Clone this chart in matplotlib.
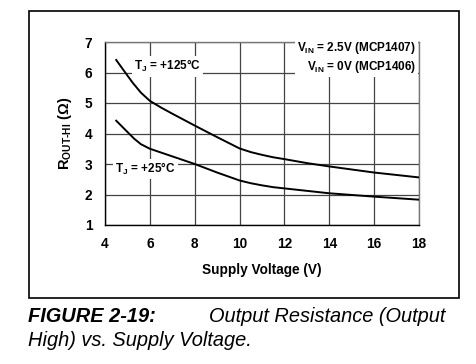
import matplotlib
matplotlib.use("Agg")
import matplotlib.pyplot as plt
from matplotlib.patches import Rectangle

plt.rcParams['font.family'] = ['Liberation Sans', 'DejaVu Sans']
plt.rcParams['mathtext.fontset'] = 'custom'
plt.rcParams['mathtext.bf'] = 'Liberation Sans:bold'
plt.rcParams['mathtext.rm'] = 'Liberation Sans:bold'

# values
vdd_hot = [4.5, 5.0, 5.25, 5.6, 6, 6.5, 7, 8, 9, 10, 10.5, 11, 11.5, 12, 13, 14, 15, 16, 17, 18]
r_hot = [6.41, 5.9, 5.65, 5.34, 5.07, 4.85, 4.65, 4.26, 3.88, 3.51, 3.39, 3.3, 3.22, 3.16,
         3.03, 2.92, 2.82, 2.72, 2.64, 2.56]
vdd_cold = [4.5, 5.0, 5.3, 5.6, 6, 7, 8, 9, 10, 10.5, 11, 11.5, 12, 14, 16, 18]
r_cold = [4.42, 4.05, 3.83, 3.65, 3.5, 3.25, 3.0, 2.72, 2.46, 2.37, 2.3, 2.24, 2.2,
          2.04, 1.93, 1.83]

W, H = 477, 364
fig = plt.figure(figsize=(W / 100, H / 100), dpi=100)

# frame around the plot area
fig.patches.append(Rectangle((29 / W, 1 - 298 / H), 430 / W, 287 / H,
                             transform=fig.transFigure, fill=False,
                             edgecolor='black', lw=1.2))

ax = fig.add_axes([105 / W, 1 - 225 / H, 314 / W, 183 / H])
ax.plot(vdd_hot, r_hot, color='black', lw=1.4, zorder=3)
ax.plot(vdd_cold, r_cold, color='black', lw=1.4, zorder=3)

ax.set_xlim(4, 18)
ax.set_ylim(1, 7)
ax.set_xticks(range(4, 19, 2))
ax.set_yticks(range(1, 8))
ax.grid(True, color='#444444', lw=0.9)
ax.tick_params(length=0, pad=9, labelsize=9.8)
for lab in ax.get_xticklabels() + ax.get_yticklabels():
    lab.set_fontweight('bold')
for s in ['top', 'right']:
    ax.spines[s].set_color('#777777')
for s in ax.spines.values():
    s.set_linewidth(1.0)

ax.set_xlabel('Supply Voltage (V)', fontsize=9.8, fontweight='bold', labelpad=8)
ax.set_ylabel(r'R$_{\mathbf{OUT\text{-}HI}}$ ($\Omega$)', fontsize=10.5,
              fontweight='bold', labelpad=8)

box = dict(facecolor='white', edgecolor='none', pad=1.5)
ax.text(5.3, 6.2, r'T$_\mathbf{J}$ = +125°C', fontsize=8.5, fontweight='bold',
        va='center', bbox=box, zorder=4)
ax.text(4.45, 2.84, r'T$_\mathbf{J}$ = +25°C', fontsize=8.5, fontweight='bold',
        va='center', bbox=box, zorder=4)
ax.text(17.85, 6.5, r'V$_\mathbf{IN}$ = 2.5V (MCP1407)' + '\n' +
        r'V$_\mathbf{IN}$ = 0V (MCP1406)', fontsize=8.5, fontweight='bold',
        ha='right', va='center', multialignment='right', linespacing=1.3,
        bbox=box, zorder=4)

fig.text(28 / W, 1 - 317 / H, 'FIGURE 2-19:', fontsize=14.4, fontweight='bold',
         style='italic', va='center')
fig.text(209 / W, 1 - 317 / H, 'Output Resistance (Output', fontsize=14.4,
         style='italic', va='center')
fig.text(28 / W, 1 - 341 / H, 'High) vs. Supply Voltage.', fontsize=14.4,
         style='italic', va='center')

fig.savefig('out.png', dpi=100)
